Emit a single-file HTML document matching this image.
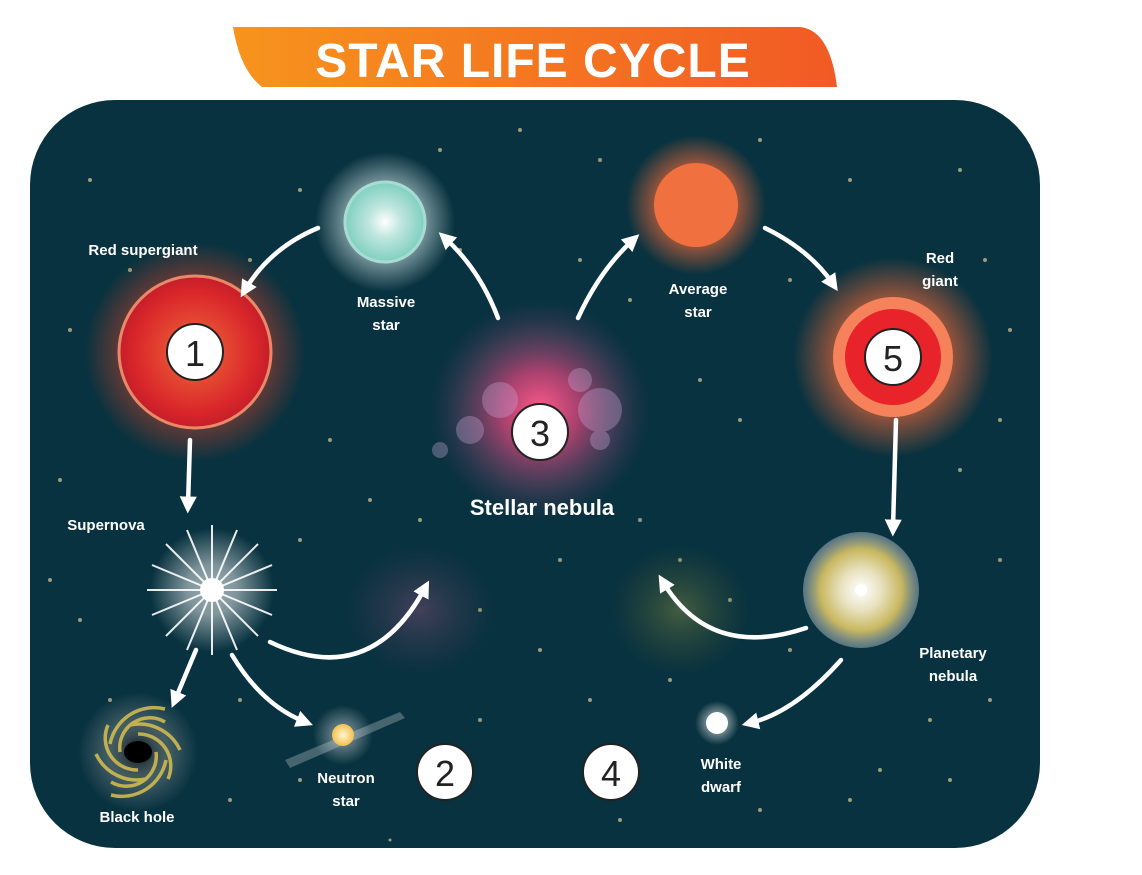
<!DOCTYPE html>
<html><head><meta charset="utf-8"><style>
html,body{margin:0;padding:0;background:#fff;}
svg{display:block;}
text{font-family:"Liberation Sans",Arial,sans-serif;font-weight:bold;fill:#fff;}
</style></head><body>
<svg width="1142" height="875" viewBox="0 0 1142 875" xmlns="http://www.w3.org/2000/svg">
<defs>
<linearGradient id="ban" x1="0" x2="1"><stop offset="0" stop-color="#f7941d"/><stop offset="1" stop-color="#f15a24"/></linearGradient>
<radialGradient id="glowR"><stop offset="0.5" stop-color="#e8442a" stop-opacity="0.9"/><stop offset="1" stop-color="#e8442a" stop-opacity="0"/></radialGradient>
<radialGradient id="rsg"><stop offset="0" stop-color="#f06a3a"/><stop offset="0.8" stop-color="#d9262a"/><stop offset="1" stop-color="#c41e2a"/></radialGradient>
<radialGradient id="glowW"><stop offset="0.45" stop-color="#c8dde0" stop-opacity="0.9"/><stop offset="1" stop-color="#c8dde0" stop-opacity="0"/></radialGradient>
<radialGradient id="teal"><stop offset="0" stop-color="#ffffff"/><stop offset="0.4" stop-color="#bfe6de"/><stop offset="1" stop-color="#7fcfc0"/></radialGradient>
<radialGradient id="glowO"><stop offset="0.45" stop-color="#f26a3a" stop-opacity="0.8"/><stop offset="1" stop-color="#f26a3a" stop-opacity="0"/></radialGradient>
<radialGradient id="neb"><stop offset="0" stop-color="#ff5a8a"/><stop offset="0.35" stop-color="#d2457a" stop-opacity="0.8"/><stop offset="0.7" stop-color="#8a4a72" stop-opacity="0.4"/><stop offset="1" stop-color="#5a3a62" stop-opacity="0"/></radialGradient>
<radialGradient id="pn"><stop offset="0" stop-color="#fff"/><stop offset="0.35" stop-color="#e8e2c0"/><stop offset="0.7" stop-color="#c9b860"/><stop offset="1" stop-color="#8aa0b0" stop-opacity="0.6"/></radialGradient>
<radialGradient id="sn"><stop offset="0" stop-color="#fff"/><stop offset="0.4" stop-color="#fff" stop-opacity="0.8"/><stop offset="1" stop-color="#fff" stop-opacity="0"/></radialGradient>
<radialGradient id="ns"><stop offset="0" stop-color="#fff6d0"/><stop offset="1" stop-color="#f5c050"/></radialGradient>
<radialGradient id="bh"><stop offset="0.2" stop-color="#2a3a40"/><stop offset="0.5" stop-color="#6a7a7a" stop-opacity="0.6"/><stop offset="1" stop-color="#6a7a8a" stop-opacity="0"/></radialGradient>
<radialGradient id="cloudP"><stop offset="0" stop-color="#6a4a6a" stop-opacity="0.6"/><stop offset="1" stop-color="#4a3a5a" stop-opacity="0"/></radialGradient>
<radialGradient id="cloudG"><stop offset="0" stop-color="#6a7a40" stop-opacity="0.6"/><stop offset="1" stop-color="#4a5a3a" stop-opacity="0"/></radialGradient>
<marker id="ah" viewBox="0 0 10 10" refX="5" refY="5" markerWidth="3.8" markerHeight="3.8" orient="auto"><path d="M0,0 L10,5 L0,10 z" fill="#fff"/></marker>
</defs>
<path d="M233,27 L800,27 Q830,30 837,87 L262,87 Q240,70 233,27 Z" fill="url(#ban)"/>
<text x="533" y="77" text-anchor="middle" font-size="48" style="letter-spacing:1px">STAR LIFE CYCLE</text>
<rect x="30" y="100" width="1010" height="748" rx="85" fill="#08323f"/>
<g fill="#c9c190" opacity="0.75">
<circle cx="130" cy="270" r="2"/><circle cx="150" cy="390" r="2"/><circle cx="90" cy="180" r="2"/><circle cx="250" cy="260" r="2"/><circle cx="300" cy="190" r="2"/><circle cx="440" cy="150" r="2"/><circle cx="520" cy="130" r="2"/><circle cx="600" cy="160" r="2"/><circle cx="760" cy="140" r="2"/><circle cx="850" cy="180" r="2"/><circle cx="960" cy="170" r="2"/><circle cx="985" cy="260" r="2"/><circle cx="1000" cy="420" r="2"/><circle cx="960" cy="470" r="2"/><circle cx="1000" cy="560" r="2"/><circle cx="990" cy="700" r="2"/><circle cx="950" cy="780" r="2"/><circle cx="850" cy="800" r="2"/><circle cx="760" cy="810" r="2"/><circle cx="590" cy="700" r="2"/><circle cx="480" cy="610" r="2"/><circle cx="560" cy="560" r="2"/><circle cx="640" cy="520" r="2"/><circle cx="740" cy="420" r="2"/><circle cx="700" cy="380" r="2"/><circle cx="330" cy="440" r="2"/><circle cx="370" cy="500" r="2"/><circle cx="300" cy="540" r="2"/><circle cx="80" cy="620" r="2"/><circle cx="60" cy="480" r="2"/><circle cx="50" cy="580" r="2"/><circle cx="240" cy="700" r="2"/><circle cx="230" cy="800" r="2"/><circle cx="390" cy="840" r="1.5"/><circle cx="480" cy="720" r="2"/><circle cx="540" cy="650" r="2"/><circle cx="670" cy="680" r="2"/><circle cx="790" cy="650" r="2"/><circle cx="930" cy="720" r="2"/><circle cx="1010" cy="330" r="2"/><circle cx="70" cy="330" r="2"/><circle cx="460" cy="250" r="2"/><circle cx="580" cy="260" r="2"/><circle cx="630" cy="300" r="2"/><circle cx="790" cy="280" r="2"/><circle cx="420" cy="520" r="2"/><circle cx="680" cy="560" r="2"/><circle cx="730" cy="600" r="2"/><circle cx="110" cy="700" r="2"/><circle cx="300" cy="780" r="2"/><circle cx="620" cy="820" r="2"/><circle cx="880" cy="770" r="2"/></g>
<ellipse cx="420" cy="610" rx="75" ry="65" fill="url(#cloudP)"/>
<ellipse cx="680" cy="610" rx="70" ry="65" fill="url(#cloudG)"/>
<circle cx="195" cy="352" r="110" fill="url(#glowR)" opacity="0.7"/>
<circle cx="195" cy="352" r="76" fill="url(#rsg)" stroke="#e88a6a" stroke-width="3"/>
<circle cx="195" cy="352" r="28" fill="#fff" stroke="#222" stroke-width="2"/>
<text x="195" y="366" text-anchor="middle" font-size="36" style="fill:#222;font-weight:normal">1</text>
<text x="143" y="255" text-anchor="middle" font-size="15">Red supergiant</text>
<circle cx="385" cy="222" r="70" fill="url(#glowW)" opacity="0.8"/>
<circle cx="385" cy="222" r="40" fill="url(#teal)" stroke="#a8dcd2" stroke-width="3"/>
<text x="386" y="307" text-anchor="middle" font-size="15">Massive</text>
<text x="386" y="330" text-anchor="middle" font-size="15">star</text>
<circle cx="696" cy="205" r="70" fill="url(#glowO)"/>
<circle cx="696" cy="205" r="42" fill="#f07040"/>
<text x="698" y="294" text-anchor="middle" font-size="15">Average</text>
<text x="698" y="317" text-anchor="middle" font-size="15">star</text>
<circle cx="893" cy="357" r="100" fill="url(#glowO)"/>
<circle cx="893" cy="357" r="60" fill="#f5825a"/>
<circle cx="893" cy="357" r="48" fill="#e8242a"/>
<circle cx="893" cy="357" r="28" fill="#fff" stroke="#222" stroke-width="2"/>
<text x="893" y="371" text-anchor="middle" font-size="36" style="fill:#222;font-weight:normal">5</text>
<text x="940" y="263" text-anchor="middle" font-size="15">Red</text>
<text x="940" y="286" text-anchor="middle" font-size="15">giant</text>
<circle cx="540" cy="410" r="110" fill="url(#neb)"/>
<g fill="#c9a8d8" opacity="0.35"><circle cx="500" cy="400" r="18"/><circle cx="600" cy="410" r="22"/><circle cx="580" cy="380" r="12"/><circle cx="470" cy="430" r="14"/><circle cx="440" cy="450" r="8"/><circle cx="600" cy="440" r="10"/></g>
<circle cx="540" cy="432" r="28" fill="#fff" stroke="#222" stroke-width="2"/>
<text x="540" y="446" text-anchor="middle" font-size="36" style="fill:#222;font-weight:normal">3</text>
<text x="542" y="515" text-anchor="middle" font-size="22">Stellar nebula</text>
<circle cx="212" cy="590" r="62" fill="url(#sn)" opacity="0.6"/>
<g stroke="#fff" stroke-width="2" opacity="0.9">
<line x1="212" y1="525" x2="212" y2="655"/><line x1="147" y1="590" x2="277" y2="590"/><line x1="166" y1="544" x2="258" y2="636"/><line x1="258" y1="544" x2="166" y2="636"/><line x1="187" y1="530" x2="237" y2="650"/><line x1="237" y1="530" x2="187" y2="650"/><line x1="152" y1="565" x2="272" y2="615"/><line x1="152" y1="615" x2="272" y2="565"/></g>
<circle cx="212" cy="590" r="12" fill="#fff"/>
<text x="106" y="530" text-anchor="middle" font-size="15">Supernova</text>
<circle cx="138" cy="752" r="60" fill="url(#bh)"/>
<g fill="none" stroke="#d8c050" stroke-width="3.5" opacity="0.85">
<path d="M120,752 a30,30 0 0,1 45,-30"/>
<path d="M156,752 a30,30 0 0,1 -45,30"/>
<path d="M138,734 a32,32 0 0,1 30,45"/>
<path d="M138,770 a32,32 0 0,1 -30,-45"/>
<path d="M110,744 a45,45 0 0,1 55,-35"/>
<path d="M166,760 a45,45 0 0,1 -55,35"/>
<path d="M130,725 a45,45 0 0,1 50,25"/>
<path d="M146,779 a45,45 0 0,1 -50,-25"/>
</g>
<ellipse cx="138" cy="752" rx="14" ry="11" fill="#000"/>
<text x="137" y="822" text-anchor="middle" font-size="15">Black hole</text>
<polygon points="285,760 400,712 405,718 290,768" fill="#fff" opacity="0.25"/>
<circle cx="343" cy="735" r="30" fill="url(#sn)" opacity="0.4"/>
<circle cx="343" cy="735" r="11" fill="url(#ns)"/>
<text x="346" y="783" text-anchor="middle" font-size="15">Neutron</text>
<text x="346" y="806" text-anchor="middle" font-size="15">star</text>
<circle cx="861" cy="590" r="58" fill="url(#pn)"/>
<circle cx="861" cy="590" r="6" fill="#fff"/>
<text x="953" y="658" text-anchor="middle" font-size="15">Planetary</text>
<text x="953" y="681" text-anchor="middle" font-size="15">nebula</text>
<circle cx="717" cy="723" r="22" fill="url(#sn)" opacity="0.6"/>
<circle cx="717" cy="723" r="11" fill="#fff"/>
<text x="721" y="769" text-anchor="middle" font-size="15">White</text>
<text x="721" y="792" text-anchor="middle" font-size="15">dwarf</text>
<circle cx="445" cy="772" r="28" fill="#fff" stroke="#222" stroke-width="2"/>
<text x="445" y="786" text-anchor="middle" font-size="36" style="fill:#222;font-weight:normal">2</text>
<circle cx="611" cy="772" r="28" fill="#fff" stroke="#222" stroke-width="2"/>
<text x="611" y="786" text-anchor="middle" font-size="36" style="fill:#222;font-weight:normal">4</text>
<g fill="none" stroke="#fff" stroke-width="4.5" stroke-linecap="round" marker-end="url(#ah)">
<path d="M318,228 Q270,248 245,290"/>
<path d="M498,318 Q480,270 445,238"/>
<path d="M578,318 Q600,270 633,240"/>
<path d="M765,228 Q810,250 833,284"/>
<path d="M190,440 L188,505"/>
<path d="M896,420 L893,528"/>
<path d="M270,642 Q370,690 425,588"/>
<path d="M806,628 Q710,660 663,582"/>
<path d="M196,650 L175,700"/>
<path d="M232,655 Q262,705 305,722"/>
<path d="M841,660 Q795,712 750,723"/>
</g>
</svg>
</body></html>
